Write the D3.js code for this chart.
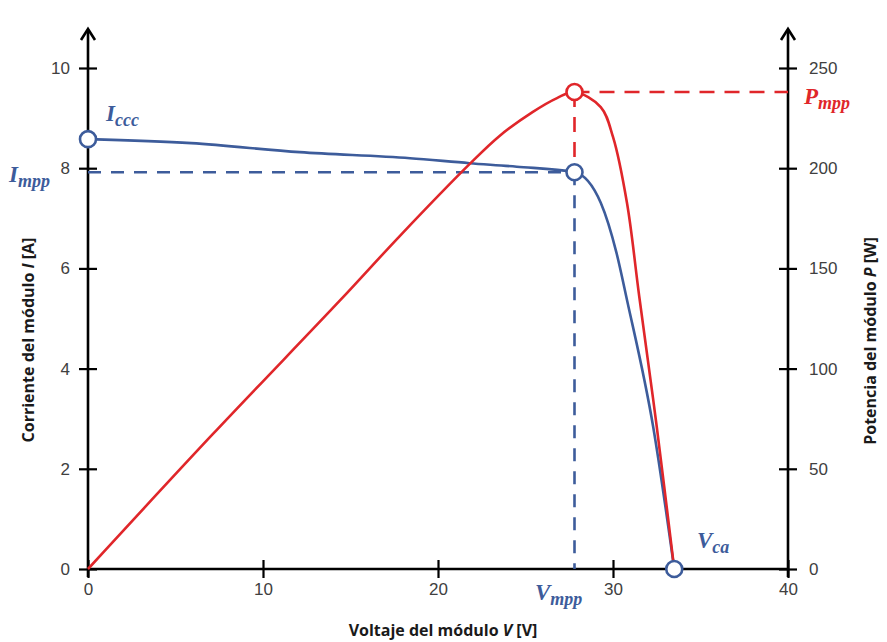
<!DOCTYPE html>
<html>
<head>
<meta charset="utf-8">
<script src="https://cdn.jsdelivr.net/npm/d3@7"></script>
<style>
  body { margin: 0; background: #fff; }
  svg { display: block; font-family: "Open Sans", sans-serif; }
</style>
</head>
<body>
<div id="chart"></div>
<script>
// I-V curve (blue)
const ivVolt    = [0, 5.9, 12.1, 18.4, 21.8, 24.5, 27.8, 29.3, 30.2, 30.8, 32.3, 33.5];
const ivCurrent = [8.58, 8.50, 8.32, 8.20, 8.10, 8.03, 7.92, 7.31, 6.31, 5.37, 2.83, 0];

// P-V curve (red)
const pvVolt  = [0, 7.1, 14.4, 17.8, 21.8, 23.5, 25.4, 26.8, 27.8, 29.3, 30.0, 30.8, 31.5, 32.5, 33.5];
const pvPower = [0, 67, 134, 166, 202, 216, 228, 235, 238, 230.5, 215.6, 182.6, 136, 71, 0];

// key points
const Icc = 8.58, Vmpp = 27.8, Impp = 7.92, Pmpp = 238, Vca = 33.5;

const xTicks = [0, 10, 20, 30, 40];
const iTicks = [0, 2, 4, 6, 8, 10];
const pTicks = [0, 50, 100, 150, 200, 250];

const width = 887, height = 642;
const marginLeft = 88, marginRight = 99, marginTop = 68, marginBottom = 73;

const blue = "#3d5c9b", red = "#e0262a";

const x = d3.scaleLinear([0, 40], [marginLeft, width - marginRight]);
const yI = d3.scaleLinear([0, 10], [height - marginBottom, marginTop]);
const yP = d3.scaleLinear([0, 250], [height - marginBottom, marginTop]);

const svg = d3.create("svg")
    .attr("width", width)
    .attr("height", height)
    .attr("viewBox", [0, 0, width, height]);

svg.append("rect").attr("width", width).attr("height", height).attr("fill", "#fff");

const x0 = x(0), x40 = x(40), y0 = yI(0);

// axes
function styleTicks(g, horizontal) {
  g.select(".domain").remove();
  g.selectAll(".tick line")
      .attr("stroke", "#000")
      .attr("stroke-width", 2.2);
  if (horizontal) g.selectAll(".tick line").attr("x1", -9).attr("x2", 9);
  else g.selectAll(".tick line").attr("y1", -9).attr("y2", 9);
  g.selectAll(".tick text")
      .attr("fill", "#404040")
      .attr("font-size", 17);
}

svg.append("g")
    .attr("transform", `translate(${x0},0)`)
    .call(d3.axisLeft(yI).tickValues(iTicks).tickSize(9).tickPadding(9))
    .call(g => styleTicks(g, true));

svg.append("g")
    .attr("transform", `translate(${x40},0)`)
    .call(d3.axisRight(yP).tickValues(pTicks).tickSize(9).tickPadding(12))
    .call(g => styleTicks(g, true));

svg.append("g")
    .attr("transform", `translate(0,${y0})`)
    .call(d3.axisBottom(x).tickValues(xTicks).tickSize(9).tickPadding(5))
    .call(g => styleTicks(g, false));

const axisLines = svg.append("g")
    .attr("stroke", "#000")
    .attr("stroke-width", 2.6)
    .attr("fill", "none");

axisLines.append("line").attr("x1", x0).attr("x2", x40).attr("y1", y0).attr("y2", y0);
axisLines.append("line").attr("x1", x0).attr("x2", x0).attr("y1", y0 + 8).attr("y2", 30);
axisLines.append("line").attr("x1", x40).attr("x2", x40).attr("y1", y0 + 8).attr("y2", 30);
for (const ax of [x0, x40]) {
  axisLines.append("path")
      .attr("d", `M${ax - 7},${40} L${ax},${29} L${ax + 7},${40}`)
      .attr("stroke-linejoin", "miter");
}

// axis titles
const title = svg.append("g")
    .attr("font-size", 16)
    .attr("font-weight", "bold")
    .attr("fill", "#1a1a1a")
    .attr("text-anchor", "middle");

const tx = title.append("text")
    .attr("x", (x0 + x40) / 2 + 5)
    .attr("y", 636);
tx.append("tspan").text("Voltaje del módulo ");
tx.append("tspan").attr("font-style", "italic").text("V");
tx.append("tspan").text(" [V]");

const ty = title.append("text")
    .attr("transform", `translate(34,${340}) rotate(-90)`);
ty.append("tspan").text("Corriente del módulo ");
ty.append("tspan").attr("font-style", "italic").text("I");
ty.append("tspan").text(" [A]");

const tp = title.append("text")
    .attr("transform", `translate(876,${341}) rotate(-90)`);
tp.append("tspan").text("Potencia del módulo ");
tp.append("tspan").attr("font-style", "italic").text("P");
tp.append("tspan").text(" [W]");

// guide lines
const dash = "13 10";
svg.append("line")
    .attr("x1", x0).attr("x2", x(Vmpp))
    .attr("y1", yI(Impp)).attr("y2", yI(Impp))
    .attr("stroke", blue).attr("stroke-width", 2.6).attr("stroke-dasharray", dash);
svg.append("line")
    .attr("x1", x(Vmpp)).attr("x2", x(Vmpp))
    .attr("y1", yI(Impp)).attr("y2", y0)
    .attr("stroke", blue).attr("stroke-width", 2.6).attr("stroke-dasharray", dash);
svg.append("line")
    .attr("x1", x(Vmpp)).attr("x2", x40)
    .attr("y1", yP(Pmpp)).attr("y2", yP(Pmpp))
    .attr("stroke", red).attr("stroke-width", 2.6).attr("stroke-dasharray", "15 10");
svg.append("line")
    .attr("x1", x(Vmpp)).attr("x2", x(Vmpp))
    .attr("y1", yP(Pmpp)).attr("y2", yI(Impp))
    .attr("stroke", red).attr("stroke-width", 2.6).attr("stroke-dasharray", "15 10");

// curves
const ivLine = d3.line()
    .x(i => x(ivVolt[i]))
    .y(i => yI(ivCurrent[i]))
    .curve(d3.curveMonotoneX);
const pvLine = d3.line()
    .x(i => x(pvVolt[i]))
    .y(i => yP(pvPower[i]))
    .curve(d3.curveCatmullRom.alpha(0.5));

svg.append("path")
    .attr("d", ivLine(d3.range(ivVolt.length)))
    .attr("fill", "none").attr("stroke", blue).attr("stroke-width", 2.6);
svg.append("path")
    .attr("d", pvLine(d3.range(pvVolt.length)))
    .attr("fill", "none").attr("stroke", red).attr("stroke-width", 2.6);

// markers
const markers = [
  {cx: x(0), cy: yI(Icc), c: blue},
  {cx: x(Vmpp), cy: yI(Impp), c: blue},
  {cx: x(Vca), cy: yI(0), c: blue},
  {cx: x(Vmpp), cy: yP(Pmpp), c: red}
];
svg.append("g")
  .selectAll("circle")
  .data(markers)
  .join("circle")
    .attr("cx", d => d.cx)
    .attr("cy", d => d.cy)
    .attr("r", 8)
    .attr("fill", "#fff")
    .attr("stroke", d => d.c)
    .attr("stroke-width", 2.6);

// annotation labels
function label(xp, yp, main, sub, color) {
  const t = svg.append("text")
      .attr("x", xp).attr("y", yp)
      .attr("fill", color)
      .attr("font-family", "'Liberation Serif', serif")
      .attr("font-weight", "bold")
      .attr("font-style", "italic")
      .attr("font-size", 23);
  t.append("tspan").text(main);
  t.append("tspan").attr("font-size", 18).attr("dy", 5).text(sub);
}
label(106, 121, "I", "ccc", blue);
label(9, 182, "I", "mpp", blue);
label(804, 104, "P", "mpp", red);
label(535, 600, "V", "mpp", blue);
label(697, 548, "V", "ca", blue);

document.getElementById("chart").appendChild(svg.node());
</script>
</body>
</html>
